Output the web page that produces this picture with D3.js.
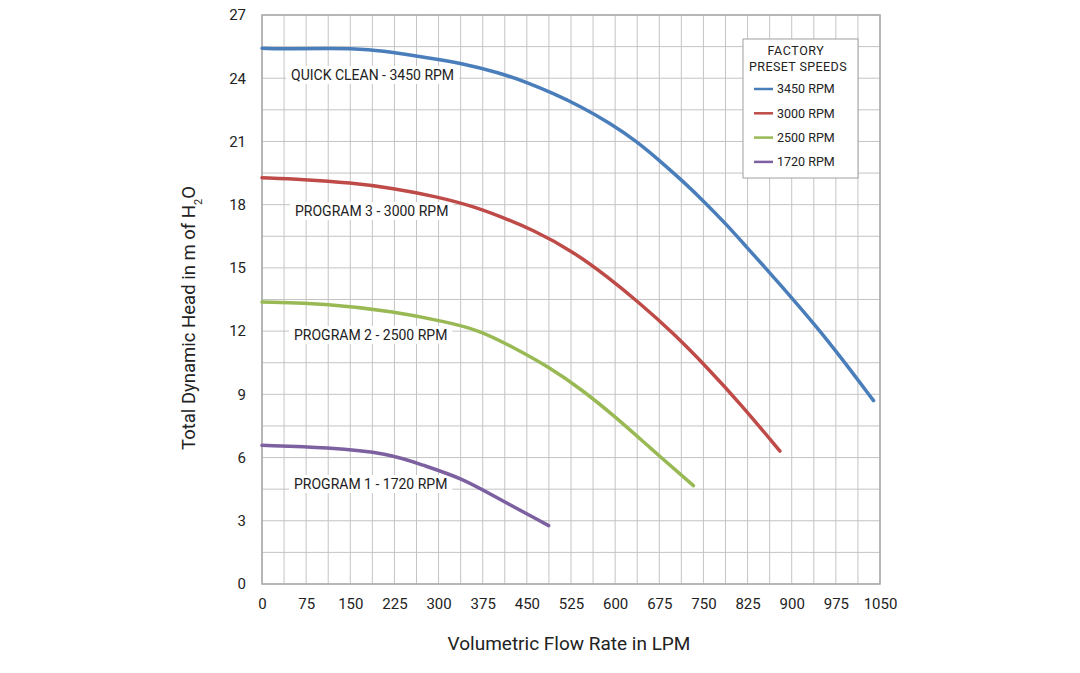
<!DOCTYPE html>
<html>
<head>
<meta charset="utf-8">
<script src="https://cdn.jsdelivr.net/npm/d3@7"></script>
<style>
  body { margin: 0; background: #fff; }
  text { font-family: Roboto, "Open Sans", sans-serif; fill: #222; }
</style>
</head>
<body>
<div id="chart"></div>
<script>
// pump curves, flow in LPM vs head in m
const flow3450 = [0, 53, 110, 183, 240, 297, 336, 404, 450, 495, 540, 591, 637, 676, 716, 755, 790, 823, 863, 903, 942, 982, 1039];
const head3450 = [25.42, 25.39, 25.42, 25.38, 25.15, 24.9, 24.72, 24.26, 23.8, 23.28, 22.68, 21.88, 21.0, 20.08, 19.09, 18.04, 17.03, 16.0, 14.76, 13.48, 12.21, 10.81, 8.7];

const flow3000 = [0, 70, 150, 223, 297, 359, 404, 461, 529, 586, 642, 699, 755, 812, 880];
const head3000 = [19.28, 19.2, 19.04, 18.78, 18.38, 17.92, 17.45, 16.8, 15.77, 14.6, 13.32, 11.9, 10.31, 8.58, 6.31];

const flow2500 = [0, 113, 226, 311, 368, 425, 487, 544, 600, 657, 733];
const head2500 = [13.38, 13.3, 12.92, 12.45, 12.06, 11.26, 10.31, 9.21, 7.94, 6.52, 4.67];

const flow1720 = [0, 113, 215, 272, 340, 396, 487];
const head1720 = [6.58, 6.48, 6.2, 5.65, 5.02, 4.14, 2.77];

const speeds = ["3450 RPM", "3000 RPM", "2500 RPM", "1720 RPM"];
const curveLabels = ["QUICK CLEAN - 3450 RPM", "PROGRAM 3 - 3000 RPM", "PROGRAM 2 - 2500 RPM", "PROGRAM 1 - 1720 RPM"];
const colors = ["#4a7ebb", "#be4b48", "#98b954", "#7d60a0"];

const xTicks = d3.range(0, 1051, 75);
const yTicks = d3.range(0, 28, 3);

const width = 1080, height = 673;
const margin = {top: 15, right: 200, bottom: 89, left: 262};

const svg = d3.select("#chart").append("svg")
  .attr("width", width)
  .attr("height", height);

const x = d3.scaleLinear().domain([0, 1050]).range([margin.left, width - margin.right]);
const y = d3.scaleLinear().domain([0, 27]).range([height - margin.bottom, margin.top]);

// grid every 37.5 LPM and 1.5 m
svg.append("g").selectAll("line")
  .data(d3.range(0, 1051, 37.5))
  .join("line")
  .attr("x1", d => x(d)).attr("x2", d => x(d))
  .attr("y1", y(0)).attr("y2", y(27))
  .attr("stroke", "#c4c4c4").attr("stroke-width", 1);

svg.append("g").selectAll("line")
  .data(d3.range(0, 27.1, 1.5))
  .join("line")
  .attr("x1", x(0)).attr("x2", x(1050))
  .attr("y1", d => y(d)).attr("y2", d => y(d))
  .attr("stroke", "#c4c4c4").attr("stroke-width", 1);

// frame
svg.append("rect")
  .attr("x", x(0)).attr("y", y(27))
  .attr("width", x(1050) - x(0)).attr("height", y(0) - y(27))
  .attr("fill", "none").attr("stroke", "#a8a8a8").attr("stroke-width", 1.5);

// axes
const xAxis = svg.append("g")
  .attr("transform", `translate(0,${y(0)})`)
  .call(d3.axisBottom(x).tickValues(xTicks).tickFormat(d3.format("d")).tickSize(0).tickPadding(14));
xAxis.select(".domain").remove();
xAxis.selectAll("text").style("font-size", "15px").style("fill", "#222");

const yAxis = svg.append("g")
  .attr("transform", `translate(${x(0)},0)`)
  .call(d3.axisLeft(y).tickValues(yTicks).tickSize(0).tickPadding(16));
yAxis.select(".domain").remove();
yAxis.selectAll("text").style("font-size", "15px").style("fill", "#222");

svg.append("text")
  .attr("x", 569).attr("y", 650)
  .attr("text-anchor", "middle")
  .style("font-size", "19px")
  .text("Volumetric Flow Rate in LPM");

const yTitle = svg.append("text")
  .attr("transform", "translate(195,318) rotate(-90)")
  .attr("text-anchor", "middle")
  .style("font-size", "18.5px");
yTitle.append("tspan").text("Total Dynamic Head in m of H");
yTitle.append("tspan").attr("baseline-shift", "sub").style("font-size", "11px").text("2");
yTitle.append("tspan").text("O");

// curve labels with white boxes behind (drawn under the curves)
const labelPos = [[291, 75], [295, 211], [294, 335], [294, 484]];
const labels = svg.append("g").selectAll("g")
  .data(curveLabels)
  .join("g")
  .attr("transform", (d, i) => `translate(${labelPos[i][0]},${labelPos[i][1]})`);
labels.append("rect")
  .attr("x", -5).attr("y", -9).attr("height", 18)
  .attr("fill", "#fff");
labels.append("text")
  .attr("dy", "0.35em")
  .style("font-size", "14px")
  .text(d => d);
labels.each(function() {
  const w = d3.select(this).select("text").node().getComputedTextLength();
  d3.select(this).select("rect").attr("width", w + 10);
});

// curves
const series = [
  {flow: flow3450, head: head3450},
  {flow: flow3000, head: head3000},
  {flow: flow2500, head: head2500},
  {flow: flow1720, head: head1720}
];

const line = d3.line()
  .x(d => x(d[0]))
  .y(d => y(d[1]))
  .curve(d3.curveBasis);

svg.append("g").selectAll("path")
  .data(series)
  .join("path")
  .attr("d", s => line(d3.zip(s.flow, s.head)))
  .attr("fill", "none")
  .attr("stroke", (s, i) => colors[i])
  .attr("stroke-width", 3.5)
  .attr("stroke-linecap", "round");

// legend
const legend = svg.append("g").attr("transform", "translate(743,39)");
legend.append("rect")
  .attr("width", 115).attr("height", 139)
  .attr("fill", "#fff").attr("stroke", "#a0a0a0").attr("stroke-width", 1);
legend.append("text")
  .attr("x", 53).attr("y", 16)
  .attr("text-anchor", "middle")
  .style("font-size", "12.5px").style("letter-spacing", "0.6px")
  .text("FACTORY");
legend.append("text")
  .attr("x", 55).attr("y", 32)
  .attr("text-anchor", "middle")
  .style("font-size", "12.5px").style("letter-spacing", "0.4px")
  .text("PRESET SPEEDS");

const items = legend.selectAll("g.item")
  .data(speeds)
  .join("g")
  .attr("class", "item")
  .attr("transform", (d, i) => `translate(0,${50 + i * 24.3})`);
items.append("line")
  .attr("x1", 11).attr("x2", 30)
  .attr("stroke", (d, i) => colors[i])
  .attr("stroke-width", 2.5);
items.append("text")
  .attr("x", 34).attr("dy", "0.35em")
  .style("font-size", "12.5px")
  .text(d => d);
</script>
</body>
</html>
